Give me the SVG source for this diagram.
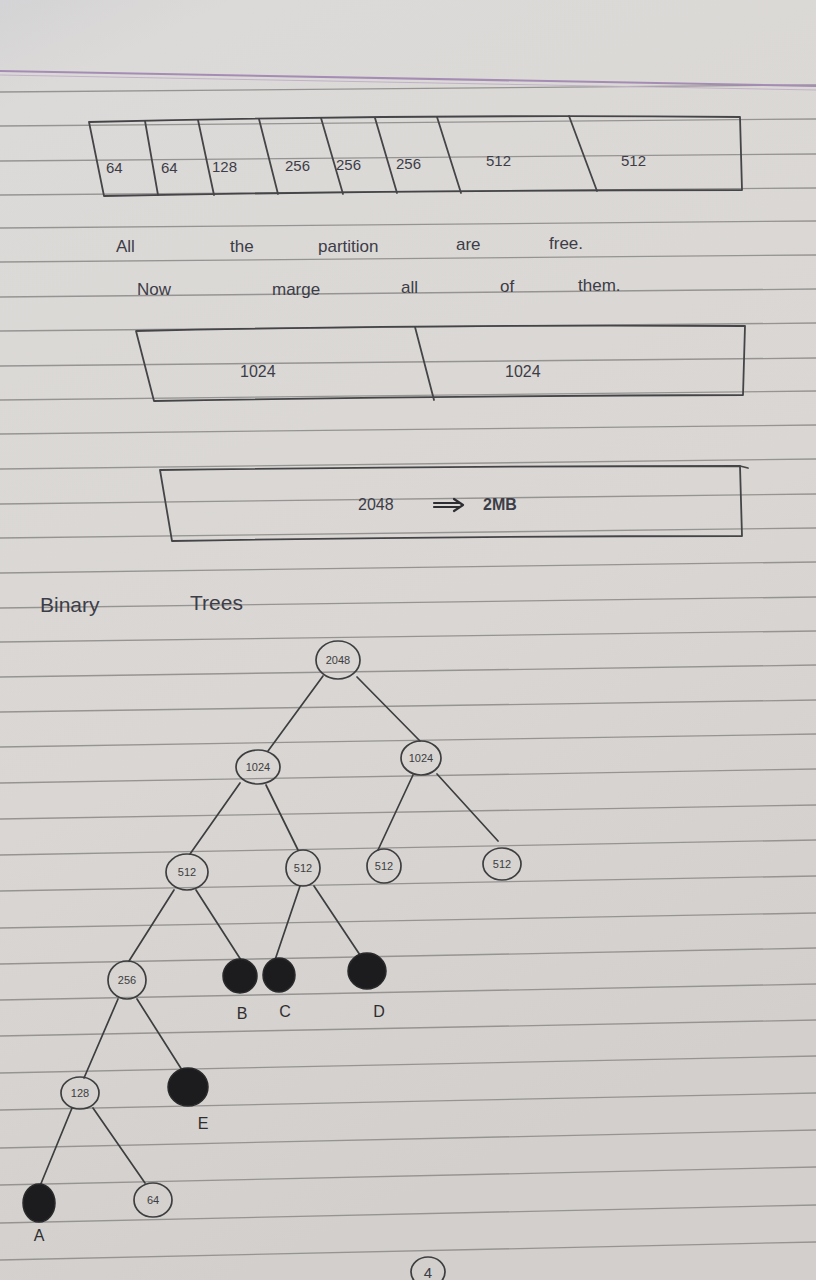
<svg xmlns="http://www.w3.org/2000/svg" width="816" height="1280" viewBox="0 0 816 1280">
<defs>
<linearGradient id="paper" x1="0" y1="0" x2="0.3" y2="1">
<stop offset="0" stop-color="#d4d3d5"/>
<stop offset="0.08" stop-color="#dcdad8"/>
<stop offset="0.6" stop-color="#d9d6d3"/>
<stop offset="1" stop-color="#d2cfcc"/>
</linearGradient>
<style>
.rule{stroke:#969492;stroke-width:1.3;fill:none}
.pen{stroke:#454548;stroke-width:1.8;fill:none;stroke-linecap:round;stroke-linejoin:round}
.edge{stroke:#3e3e40;stroke-width:1.7;fill:none;stroke-linecap:round}
.node{stroke:#3e3e40;stroke-width:1.7;fill:none}
.full{fill:#1c1c1e;stroke:#2a2a2c;stroke-width:1.5}
.t{font-family:"Liberation Sans",sans-serif;fill:#3d3d48}
.n{font-family:"Liberation Sans",sans-serif;fill:#3d3d40;font-size:11px;text-anchor:middle}
.l{font-family:"Liberation Sans",sans-serif;fill:#2e2e30;font-size:16px;text-anchor:middle}
</style>
</defs>
<rect width="816" height="1280" fill="url(#paper)"/>
<g id="rules">
<line class="rule" x1="0" y1="92" x2="816" y2="85"/>
<line class="rule" x1="0" y1="126" x2="816" y2="119"/>
<line class="rule" x1="0" y1="161" x2="816" y2="154"/>
<line class="rule" x1="0" y1="195" x2="816" y2="188"/>
<line class="rule" x1="0" y1="228" x2="816" y2="221"/>
<line class="rule" x1="0" y1="262" x2="816" y2="255"/>
<line class="rule" x1="0" y1="297" x2="816" y2="289"/>
<line class="rule" x1="0" y1="331" x2="816" y2="323"/>
<line class="rule" x1="0" y1="366" x2="816" y2="358"/>
<line class="rule" x1="0" y1="400" x2="816" y2="391"/>
<line class="rule" x1="0" y1="434" x2="816" y2="425"/>
<line class="rule" x1="0" y1="469" x2="816" y2="459"/>
<line class="rule" x1="0" y1="504" x2="816" y2="494"/>
<line class="rule" x1="0" y1="538" x2="816" y2="528"/>
<line class="rule" x1="0" y1="573" x2="816" y2="562"/>
<line class="rule" x1="0" y1="608" x2="816" y2="597"/>
<line class="rule" x1="0" y1="642" x2="816" y2="631"/>
<line class="rule" x1="0" y1="677" x2="816" y2="665"/>
<line class="rule" x1="0" y1="712" x2="816" y2="700"/>
<line class="rule" x1="0" y1="747" x2="816" y2="734"/>
<line class="rule" x1="0" y1="783" x2="816" y2="769"/>
<line class="rule" x1="0" y1="819" x2="816" y2="805"/>
<line class="rule" x1="0" y1="855" x2="816" y2="840"/>
<line class="rule" x1="0" y1="891" x2="816" y2="876"/>
<line class="rule" x1="0" y1="928" x2="816" y2="913"/>
<line class="rule" x1="0" y1="964" x2="816" y2="948"/>
<line class="rule" x1="0" y1="1000" x2="816" y2="984"/>
<line class="rule" x1="0" y1="1036" x2="816" y2="1020"/>
<line class="rule" x1="0" y1="1073" x2="816" y2="1056"/>
<line class="rule" x1="0" y1="1110" x2="816" y2="1093"/>
<line class="rule" x1="0" y1="1148" x2="816" y2="1130"/>
<line class="rule" x1="0" y1="1185" x2="816" y2="1167"/>
<line class="rule" x1="0" y1="1223" x2="816" y2="1205"/>
<line class="rule" x1="0" y1="1260" x2="816" y2="1242"/>
<line x1="0" y1="71" x2="816" y2="86" stroke="#a58cb4" stroke-width="2"/>
<line x1="0" y1="75" x2="816" y2="90" stroke="#c1b2c8" stroke-width="1"/>
</g>
<g id="partition-8">
<path class="pen" d="M89,122 Q420,114 740,117 L742,190 Q420,190 104,196 Z"/>
<path class="pen" d="M145,121 L158,195 M198,120 L214,195 M259,119 L278,194 M321,118 L343,194 M375,118 L397,193 M437,117 L461,193 M569,116 L597,191"/>
<text class="t" font-size="15"><tspan x="106" y="173">64</tspan><tspan x="161" y="173">64</tspan><tspan x="212" y="172">128</tspan><tspan x="285" y="171">256</tspan><tspan x="336" y="170">256</tspan><tspan x="396" y="169">256</tspan><tspan x="486" y="166">512</tspan><tspan x="621" y="166">512</tspan></text>
</g>
<g id="note">
<text class="t" font-size="17"><tspan x="116" y="252">All</tspan><tspan x="230" y="252">the</tspan><tspan x="318" y="252">partition</tspan><tspan x="456" y="250">are</tspan><tspan x="549" y="249">free.</tspan></text>
<text class="t" font-size="17"><tspan x="137" y="295">Now</tspan><tspan x="272" y="295">marge</tspan><tspan x="401" y="293">all</tspan><tspan x="500" y="292">of</tspan><tspan x="578" y="291">them.</tspan></text>
</g>
<g id="partition-2">
<path class="pen" d="M136,331 Q440,324 745,326 L743,395 Q440,396 154,401 Z"/>
<path class="pen" d="M415,327 L434,400"/>
<text class="t" font-size="16"><tspan x="240" y="377">1024</tspan><tspan x="505" y="377">1024</tspan></text>
</g>
<g id="partition-1">
<path class="pen" d="M160,470 Q450,466 740,466 L742,536 Q450,536 172,541 Z"/>
<path class="pen" d="M740,466 L748,468"/>
<text class="t" font-size="16" x="358" y="510">2048</text>
<path d="M434,503 L460,503 M434,507 L460,507 M454,499 L463,505 L454,511" stroke="#2e2e32" stroke-width="2.2" fill="none" stroke-linecap="round" stroke-linejoin="round"/>
<text class="t" font-size="16" font-weight="bold" x="483" y="510">2MB</text>
</g>
<g id="title">
<text class="t" font-size="21" fill="#2e2e32"><tspan x="40" y="612">Binary</tspan><tspan x="190" y="610">Trees</tspan></text>
</g>
<g id="connectors">
<line class="edge" x1="323" y1="676" x2="268" y2="751"/>
<line class="edge" x1="357" y1="677" x2="420" y2="741"/>
<line class="edge" x1="240" y1="783" x2="190" y2="854"/>
<line class="edge" x1="266" y1="785" x2="298" y2="850"/>
<line class="edge" x1="413" y1="775" x2="378" y2="850"/>
<line class="edge" x1="437" y1="774" x2="498" y2="841"/>
<line class="edge" x1="174" y1="890" x2="129" y2="961"/>
<line class="edge" x1="196" y1="890" x2="241" y2="960"/>
<line class="edge" x1="300" y1="886" x2="275" y2="960"/>
<line class="edge" x1="314" y1="886" x2="360" y2="955"/>
<line class="edge" x1="118" y1="999" x2="84" y2="1078"/>
<line class="edge" x1="137" y1="999" x2="182" y2="1070"/>
<line class="edge" x1="72" y1="1108" x2="40" y2="1186"/>
<line class="edge" x1="93" y1="1108" x2="145" y2="1183"/>
</g>
<g id="n2048"><ellipse class="node" cx="338" cy="660" rx="22" ry="19"/><text class="n" x="338" y="664">2048</text></g>
<g id="n1024a"><ellipse class="node" cx="258" cy="767" rx="22" ry="17"/><text class="n" x="258" y="771">1024</text></g>
<g id="n1024b"><ellipse class="node" cx="421" cy="758" rx="20" ry="17"/><text class="n" x="421" y="762">1024</text></g>
<g id="n512a"><ellipse class="node" cx="187" cy="872" rx="21" ry="18"/><text class="n" x="187" y="876">512</text></g>
<g id="n512b"><ellipse class="node" cx="303" cy="868" rx="17" ry="18"/><text class="n" x="303" y="872">512</text></g>
<g id="n512c"><ellipse class="node" cx="384" cy="866" rx="17" ry="17"/><text class="n" x="384" y="870">512</text></g>
<g id="n512d"><ellipse class="node" cx="502" cy="864" rx="19" ry="16"/><text class="n" x="502" y="868">512</text></g>
<g id="n256"><ellipse class="node" cx="127" cy="980" rx="19" ry="19"/><text class="n" x="127" y="984">256</text></g>
<g id="nB"><ellipse class="full" cx="240" cy="976" rx="17" ry="17"/><text class="l" x="242" y="1019">B</text></g>
<g id="nC"><ellipse class="full" cx="279" cy="975" rx="16" ry="17"/><text class="l" x="285" y="1017">C</text></g>
<g id="nD"><ellipse class="full" cx="367" cy="971" rx="19" ry="18"/><text class="l" x="379" y="1017">D</text></g>
<g id="n128"><ellipse class="node" cx="80" cy="1093" rx="19" ry="16"/><text class="n" x="80" y="1097">128</text></g>
<g id="nE"><ellipse class="full" cx="188" cy="1087" rx="20" ry="19"/><text class="l" x="203" y="1129">E</text></g>
<g id="nA"><ellipse class="full" cx="39" cy="1203" rx="16" ry="19"/><text class="l" x="39" y="1241">A</text></g>
<g id="n64"><ellipse class="node" cx="153" cy="1200" rx="19" ry="17"/><text class="n" x="153" y="1204">64</text></g>
<g id="page-number"><ellipse class="node" cx="428" cy="1272" rx="17" ry="15"/><text class="t" font-size="15" x="428" y="1278" text-anchor="middle">4</text></g>
</svg>
